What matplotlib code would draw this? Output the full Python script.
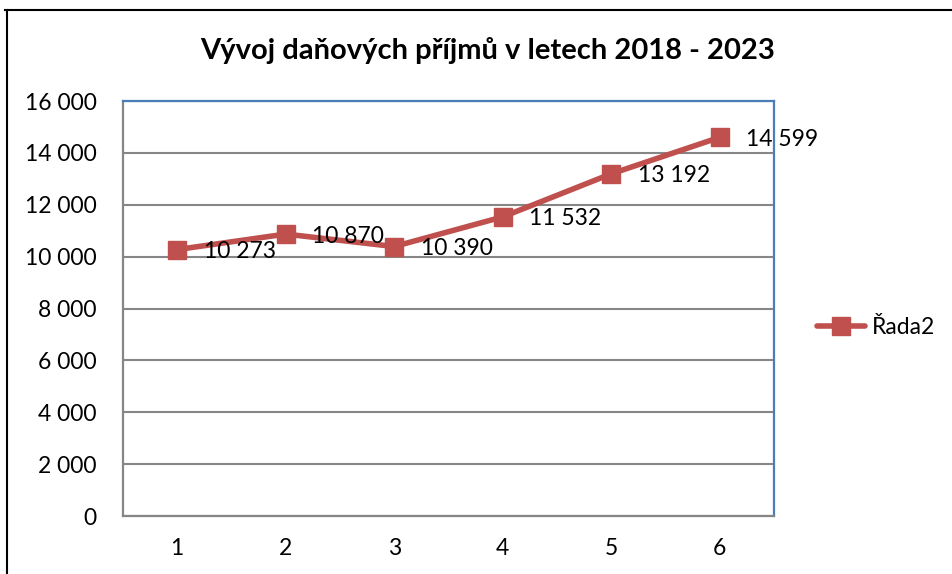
import matplotlib
matplotlib.use("Agg")
import matplotlib.pyplot as plt
from matplotlib.lines import Line2D
from matplotlib.ticker import FuncFormatter

# Data
categories = [1, 2, 3, 4, 5, 6]
values = [10273, 10870, 10390, 11532, 13192, 14599]
seriesName = "Řada2"
title = "Vývoj daňových příjmů v letech 2018 - 2023"

RED = "#C0504D"
BLUE = "#4A7EBB"
GRAY = "#868686"

plt.rcParams["font.family"] = ["Lato", "DejaVu Sans"]


def spaceThousands(v, pos=None):
    return "{:,.0f}".format(v).replace(",", " ")


fig = plt.figure(figsize=(9.53, 5.74), dpi=100)
ax = fig.add_axes([0.129, 0.101, 0.683, 0.723])

ax.plot(categories, values, color=RED, linewidth=4.0, marker="s",
        markersize=13.5, markerfacecolor=RED, markeredgecolor=RED,
        label=seriesName, zorder=3, solid_capstyle="round")

for x, y in zip(categories, values):
    ax.annotate(spaceThousands(y), (x, y), xytext=(19, -1.5),
                textcoords="offset points", ha="left", va="center",
                fontsize=16.5, color="black", zorder=4, clip_on=False)

ax.set_xlim(0.5, 6.5)
ax.set_ylim(0, 16000)
ax.set_xticks(categories)
ax.set_yticks(range(0, 16001, 2000))
ax.yaxis.set_major_formatter(FuncFormatter(spaceThousands))
ax.tick_params(axis="both", length=0, labelsize=16.5, colors="black")
ax.tick_params(axis="y", pad=19)
ax.tick_params(axis="x", pad=16)
ax.grid(axis="y", color=GRAY, linewidth=1.5)
ax.set_axisbelow(True)

ax.spines["left"].set_color(GRAY)
ax.spines["bottom"].set_color(GRAY)
ax.spines["top"].set_color(BLUE)
ax.spines["right"].set_color(BLUE)
for s in ax.spines.values():
    s.set_linewidth(1.6)

fig.text(0.512, 0.912, title, ha="center", va="center",
         fontsize=21, fontweight="bold")

ax.legend(loc="center left", bbox_to_anchor=(1.035, 0.455), frameon=False,
          fontsize=16.5, handlelength=2.1, handletextpad=0.3)

# outer chart frame (only top and left edges visible)
fig.add_artist(Line2D([0.005, 1.0], [0.983, 0.983], color="black",
                      linewidth=1.5, transform=fig.transFigure))
fig.add_artist(Line2D([0.0075, 0.0075], [0.0, 0.983], color="black",
                      linewidth=1.5, transform=fig.transFigure))

fig.savefig("out.png", dpi=100)
